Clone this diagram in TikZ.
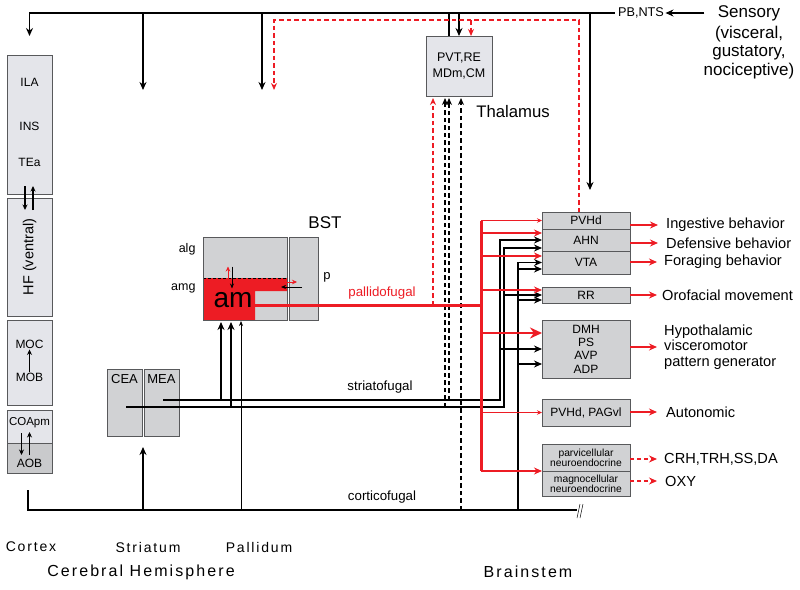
\documentclass[tikz,border=0pt]{standalone}
\usepackage{fontspec}
\setmainfont{Liberation Sans}
\newfontfamily\spacedfont[LetterSpace=13]{Liberation Sans}
\usepackage{tikz}
\usetikzlibrary{arrows.meta, positioning}
\usepackage{xcolor}
\definecolor{nred}{HTML}{ED1C24}
\definecolor{lightbox}{HTML}{E4E5EA}
\definecolor{graybox}{HTML}{D1D2D4}
\definecolor{aobgray}{HTML}{C9CACC}
\definecolor{edge}{HTML}{58595B}
\tikzstyle{cortexbox} = [rectangle, draw=edge, fill=lightbox, line width=0.9pt, inner sep=0pt, outer sep=0pt, anchor=north west]
\tikzstyle{nucbox} = [rectangle, draw=edge, fill=graybox, line width=0.9pt, inner sep=0pt, outer sep=0pt, anchor=north west, minimum width=88pt, text centered, font=\fontsize{12}{13.3}\selectfont]
\tikzstyle{boxtext} = [font=\fontsize{12}{14}\selectfont, inner sep=1pt]
\tikzstyle{outlabel} = [font=\fontsize{14.6}{15.6}\selectfont, anchor=west, inner sep=0pt, align=left]
\tikzstyle{regionlabel} = [font=\spacedfont\fontsize{14}{16}\selectfont, inner sep=0pt]
\tikzstyle{bus} = [line width=1.5pt]
\tikzstyle{arrow} = [line width=1.5pt, -{Stealth[length=8pt,width=7pt]}]
\tikzstyle{smallarrow} = [line width=1.1pt, -{Stealth[length=5.5pt,width=5pt]}]
\tikzstyle{thinarrow} = [line width=0.7pt, -{Stealth[length=5pt,width=4pt]}]
\tikzstyle{dashedarrow} = [line width=1.8pt, dash pattern=on 4.5pt off 3pt, -{Stealth[length=7pt,width=6pt]}]
\tikzstyle{reddashed} = [nred, line width=1.5pt, dash pattern=on 4.5pt off 3pt, -{Stealth[length=7pt,width=6pt]}]
\tikzstyle{redbus} = [nred, line width=3pt]
\tikzstyle{redarrow} = [nred, line width=1.7pt, -{Stealth[length=8pt,width=7pt]}]
\tikzstyle{redthin} = [nred, line width=0.8pt, -{Stealth[length=5pt,width=4.5pt]}]
\tikzstyle{redthick} = [nred, line width=2.6pt, -{Stealth[length=12pt,width=11pt]}]

\begin{document}
\begin{tikzpicture}[x=1pt, y=-1pt]
\useasboundingbox (0,0) rectangle (800,589);

% Cortex column
\node (iso) [cortexbox, minimum width=45pt, minimum height=139pt] at (7,55) {};
\node (ila) [boxtext] at (29.5,82) {ILA};
\node (ins) [boxtext] at (29.5,126) {INS};
\node (tea) [boxtext] at (29.5,162) {TEa};
\node (hf) [cortexbox, minimum width=45pt, minimum height=118pt] at (7,198) {};
\node (hftext) [rotate=90, font=\fontsize{14.5}{16}\selectfont] at (hf.center) {HF (ventral)};
\node (olf) [cortexbox, minimum width=45pt, minimum height=85pt] at (7,320) {};
\node (moc) [boxtext] at (29.5,344) {MOC};
\node (mob) [boxtext] at (29.5,377) {MOB};
\node (coa) [cortexbox, minimum width=45pt, minimum height=33pt] at (7,410) {};
\node (aob) [cortexbox, fill=aobgray, minimum width=45pt, minimum height=30pt] at (7,443) {};
\node (coatext) [boxtext, font=\fontsize{11.5}{12}\selectfont] at (29.5,423) {COApm};
\node (aobtext) [boxtext] at (29.5,463) {AOB};

\draw [smallarrow] ([xshift=-4.5pt,yshift=8pt]iso.south) -- ([xshift=-4.5pt,yshift=-12pt]hf.north);
\draw [smallarrow] ([xshift=3.5pt,yshift=-12pt]hf.north) -- ([xshift=3.5pt,yshift=8pt]iso.south);
\draw [smallarrow] (mob.north) -- (moc.south);
\draw [smallarrow] ([xshift=-8pt,yshift=10pt]aob.north) -- ([xshift=-8pt,yshift=-12pt]aob.north);
\draw [smallarrow] ([yshift=-12pt]aob.north) -- ([yshift=11pt]aob.north);

% Striatum
\node (cea) [nucbox, minimum width=35pt, minimum height=67pt] at (107,369) {};
\node (mea) [nucbox, minimum width=35pt, minimum height=67pt] at (144,369) {};
\node (ceatext) [font=\fontsize{13}{14}\selectfont] at (124.5,379) {CEA};
\node (meatext) [font=\fontsize{13}{14}\selectfont] at (161.5,379) {MEA};

% BST
\node (bst) [nucbox, minimum width=84pt, minimum height=83pt] at (203,237) {};
\node (bstp) [nucbox, minimum width=29pt, minimum height=83pt] at (289,237) {};
\fill [nred] (203,278) -- (287,278) -- (287,291) -- (255,291) -- (255,320) -- (203,320) -- cycle;
\draw [line width=0.9pt, dash pattern=on 3pt off 2pt] (203,278) -- (287,278);
\draw [edge, line width=0.9pt] (bst.north west) rectangle (bst.south east);
\node (am) [font=\fontsize{28}{30}\selectfont] at (233,300) {am};
\node (alg) [anchor=east, font=\fontsize{12.5}{14}\selectfont] at (199,249) {alg};
\node (amg) [anchor=east, font=\fontsize{12.5}{14}\selectfont] at (199,288) {amg};
\node (bstlabel) [font=\fontsize{17}{18}\selectfont] at (325,223) {BST};
\node (plabel) [font=\fontsize{13}{14}\selectfont] at (327,277) {p};
\draw [redthin, line width=0.6pt] ([xshift=-17pt,yshift=-9pt]bst.center) -- ([xshift=-17pt,yshift=12pt]bst.center);
\draw [thinarrow] ([xshift=-13pt,yshift=12pt]bst.center) -- ([xshift=-13pt,yshift=-10pt]bst.center);
\draw [redthin, line width=0.6pt] ([xshift=-6pt,yshift=-3.5pt]bst.east) -- ([xshift=10pt,yshift=-3.5pt]bst.east);
\draw [thinarrow, line width=0.8pt] ([xshift=15pt,yshift=-8.5pt]bst.east) -- ([xshift=-6pt,yshift=-8.5pt]bst.east);

% Thalamus
\node (thal) [cortexbox, minimum width=66pt, minimum height=60pt] at (426,36) {};
\node (thaltext) [align=center, font=\fontsize{12.5}{16.5}\selectfont] at (thal.center) {PVT,RE\\MDm,CM};
\node (thallabel) [font=\fontsize{16.7}{18}\selectfont] at (513,112) {Thalamus};

% Brainstem targets
\node (pvhd) [nucbox, minimum height=17pt] at (542,212) {PVHd};
\node (ahn) [nucbox, minimum height=22pt] at (542,229) {AHN};
\node (vta) [nucbox, minimum height=23pt] at (542,251) {VTA};
\node (rr) [nucbox, minimum height=16pt] at (542,287) {RR};
\node (dmh) [nucbox, minimum height=58pt, align=center] at (542,320) {DMH\\PS\\AVP\\ADP};
\node (pag) [nucbox, minimum height=27pt] at (542,399) {PVHd, PAGvl};
\node (parvi) [nucbox, minimum height=27pt, align=center, font=\fontsize{10.3}{10}\selectfont] at (542,444) {parvicellular\\neuroendocrine};
\node (magno) [nucbox, minimum height=25pt, align=center, font=\fontsize{10.3}{10}\selectfont] at (542,471) {magnocellular\\neuroendocrine};

% Outputs
\node (ingest) [outlabel] at (666,225) {Ingestive behavior};
\node (defend) [outlabel] at (666,243) {Defensive behavior};
\node (forage) [outlabel] at (664,262) {Foraging behavior};
\node (oro) [outlabel] at (662,295) {Orofacial movement};
\node (hypo) [outlabel] at (664,347) {Hypothalamic\\visceromotor\\pattern generator};
\node (auto) [outlabel] at (666,412) {Autonomic};
\node (crh) [outlabel] at (664,459) {CRH,TRH,SS,DA};
\node (oxy) [outlabel] at (665,481) {OXY};

\draw [redarrow] (ingest.west -| pvhd.east) -- ([xshift=-8pt]ingest.west);
\draw [redarrow] (defend.west -| ahn.east) -- ([xshift=-8pt]defend.west);
\draw [redarrow] (forage.west -| vta.east) -- ([xshift=-7pt]forage.west);
\draw [redarrow] (oro.west -| rr.east) -- ([xshift=-5pt]oro.west);
\draw [redarrow] (hypo.west -| dmh.east) -- ([xshift=-7pt]hypo.west);
\draw [redarrow] (auto.west -| pag.east) -- ([xshift=-9pt]auto.west);
\draw [redarrow, dash pattern=on 4pt off 3pt] (crh.west -| parvi.east) -- ([xshift=-7pt]crh.west);
\draw [redarrow, dash pattern=on 4pt off 3pt] (oxy.west -| magno.east) -- ([xshift=-8pt]oxy.west);

% Sensory input and top bus
\node (pbnts) [font=\fontsize{12.7}{14}\selectfont] at (641,13) {PB,NTS};
\node (sens) [font=\fontsize{17}{18}\selectfont] at (749,13) {Sensory};
\node (sensdet) [below=-2pt of sens, align=center, font=\fontsize{17}{18.5}\selectfont] {(visceral,\\gustatory,\\nociceptive)};
\draw [arrow] ([xshift=-10pt]sens.west) -- ([xshift=-2pt]pbnts.east);

\coordinate (strtop) at (143,90);
\coordinate (paltop) at (262,90);
\coordinate (redtop) at (274,20);
\coordinate (palred) at (274,90);
\draw [arrow] (pbnts.west) -| ([yshift=19pt]iso.north);
\draw [arrow] (strtop |- pbnts) -- (strtop);
\draw [arrow] (paltop |- pbnts) -- (paltop);
\draw [bus] ([xshift=-10pt]thal.north |- pbnts) -- ([xshift=-10pt]thal.north);
\draw [arrow] (thal.north |- pbnts) -- (thal.north);
\draw [arrow] ([xshift=4pt]pvhd.north |- pbnts) -- ([xshift=4pt,yshift=22pt]pvhd.north);
\draw [reddashed] ([xshift=-7pt]pvhd.north) |- (redtop) -- (palred);
\draw [reddashed] ([xshift=12pt]thal.north |- redtop) -- ([xshift=12pt]thal.north);

% Fugal pathways
\coordinate (meaout) at (163,400);
\coordinate (ceaout) at (126,407);
\coordinate (stru) at (500,400);
\coordinate (strl) at (504,407);
\coordinate (cortstart) at (28,490);
\coordinate (cortend) at (577,510);
\coordinate (cort) at (518,510);
\coordinate (pf) at (481,305);

% corticofugal
\draw [bus] (cortstart) |- (cortend);
\draw [line width=0.5pt] ([xshift=0pt,yshift=-8pt]cortend) -- ([xshift=3pt,yshift=6pt]cortend);
\draw [line width=0.5pt] ([xshift=3pt,yshift=-8pt]cortend) -- ([xshift=6pt,yshift=6pt]cortend);
\draw [arrow] (strtop |- cortend) -- ([xshift=1pt,yshift=-11pt]cea.south east);
\draw [thinarrow] ([xshift=-4pt]bst.south |- cortend) -- ([xshift=-4pt,yshift=-1pt]bst.south);
\draw [arrow] (cort) |- (vta.west);
\draw [arrow] ([yshift=-6.5pt]vta.west -| cort) -- ([yshift=-6.5pt]vta.west);
\draw [arrow] ([yshift=-5pt]rr.west -| cort) -- ([yshift=-5pt]rr.west);
\draw [arrow] ([yshift=-15pt]dmh.west -| cort) -- ([yshift=-15pt]dmh.west);
\draw [dashedarrow] ([xshift=2pt]thal.south |- cortend) -- ([xshift=2pt,yshift=-2pt]thal.south);
\node (corticofugal) [font=\fontsize{13.3}{14}\selectfont] at (382,497) {corticofugal};

% striatofugal
\draw [arrow] (meaout) -- (stru) |- (ahn.west);
\draw [arrow] (ceaout) -- (strl) |- ([yshift=-8pt]ahn.west);
\draw [arrow] (stru |- dmh.west) -- (dmh.west);
\draw [arrow] (strl |- rr.west) -- (rr.west);
\draw [arrow] ([xshift=-24pt]bst.south |- stru) -- ([xshift=-24pt,yshift=-2pt]bst.south);
\draw [arrow] ([xshift=-14pt]bst.south |- strl) -- ([xshift=-14pt,yshift=-2pt]bst.south);
\draw [dashedarrow] ([xshift=-10pt]thal.south |- stru) -- ([xshift=-10pt,yshift=-2pt]thal.south);
\draw [dashedarrow] ([xshift=-14pt]thal.south |- strl) -- ([xshift=-14pt,yshift=-2pt]thal.south);
\node (striatofugal) [font=\fontsize{13.3}{14}\selectfont] at (380,387) {striatofugal};

% pallidofugal
\draw [redbus] ([xshift=10pt]bst.south |- pf) -- (pf);
\draw [redbus] (pvhd.west -| pf) -- (parvi.south west -| pf);
\draw [reddashed] ([xshift=-26pt]thal.south |- pf) -- ([xshift=-26pt,yshift=-2pt]thal.south);
\draw [redthin] (pvhd.west -| pf) -- (pvhd.west);
\draw [redarrow] ([yshift=7pt]ahn.west -| pf) -- ([yshift=7pt]ahn.west);
\draw [redarrow] ([yshift=6.5pt]vta.west -| pf) -- ([yshift=6.5pt]vta.west);
\draw [redarrow] ([yshift=5pt]rr.west -| pf) -- ([yshift=5pt]rr.west);
\draw [redthick] ([yshift=16pt]dmh.west -| pf) -- ([yshift=16pt]dmh.west);
\draw [redthin] (pag.west -| pf) -- (pag.west);
\draw [redarrow] (parvi.south west -| pf) -- (parvi.south west);
\node (pallidofugal) [text=nred, font=\fontsize{13.3}{14}\selectfont] at (382,293) {pallidofugal};

% Region labels
\node (cortex) [regionlabel] at (31,547) {Cortex};
\node (striatum) [regionlabel] at (148,547) {Striatum};
\node (pallidum) [regionlabel] at (259,547) {Pallidum};
\node (cerebral) [regionlabel, font=\spacedfont\fontsize{16}{18}\selectfont] at (141,572) {Cerebral Hemisphere};
\node (brainstem) [regionlabel, font=\spacedfont\fontsize{16}{18}\selectfont] at (528,572) {Brainstem};

\end{tikzpicture}
\end{document}
